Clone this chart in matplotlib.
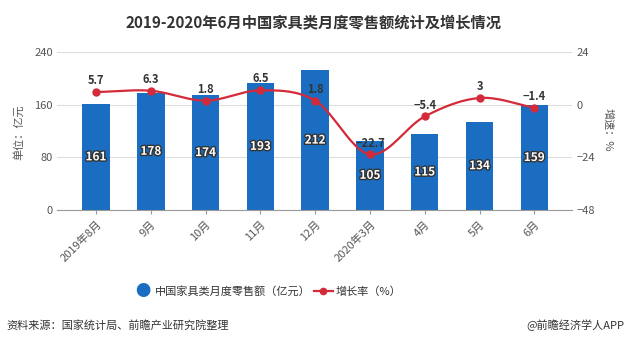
import matplotlib.pyplot as plt
import matplotlib.patheffects as pe
import numpy as np

plt.rcParams['font.family'] = ['Noto Sans CJK SC', 'DejaVu Sans']

months = ['2019年8月', '9月', '10月', '11月', '12月', '2020年3月', '4月', '5月', '6月']
sales = [161, 178, 174, 193, 212, 105, 115, 134, 159]
growth = [5.7, 6.3, 1.8, 6.5, 1.8, -22.7, -5.4, 3, -1.4]

bar_color = '#1a6dc0'
line_color = '#d42a3a'
grey = '#555555'


def smooth(x, y, n=20):
    # catmull-rom curve through the points, for the look of the line only
    x = np.asarray(x, float)
    y = np.asarray(y, float)
    px = np.concatenate([[2 * x[0] - x[1]], x, [2 * x[-1] - x[-2]]])
    py = np.concatenate([[2 * y[0] - y[1]], y, [2 * y[-1] - y[-2]]])
    t = np.linspace(0, 1, n)[:, None]
    xs, ys = [], []
    for i in range(1, len(px) - 2):
        for arr, out in ((px, xs), (py, ys)):
            p0, p1, p2, p3 = arr[i - 1], arr[i], arr[i + 1], arr[i + 2]
            c = 0.5 * (2 * p1 + (-p0 + p2) * t + (2 * p0 - 5 * p1 + 4 * p2 - p3) * t ** 2
                       + (-p0 + 3 * p1 - 3 * p2 + p3) * t ** 3)
            out.extend(c.ravel())
    return np.array(xs), np.array(ys)


fig = plt.figure(figsize=(6.28, 3.44), dpi=100)
ax = fig.add_axes([0.091, 0.39, 0.82, 0.459])
x = np.arange(len(months))

ax.bar(x, sales, width=0.5, color=bar_color, zorder=2)
ax.set_ylim(0, 240)
ax.set_yticks([0, 80, 160, 240])
ax.set_xlim(-0.71, len(months) - 0.31)
ax.grid(axis='y', color='#dddddd', linewidth=0.8, zorder=0)
for s in ['top', 'right', 'left']:
    ax.spines[s].set_visible(False)
ax.spines['bottom'].set_color('#999999')
ax.tick_params(axis='y', length=0, labelsize=8, colors=grey, pad=3)
ax.tick_params(axis='x', labelsize=8, colors=grey, length=3, color='#999999')
ax.set_xticks(x)
ax.set_xticklabels(months, rotation=45, ha='right', rotation_mode='anchor')

# value labels sit in the middle of each bar
for xi, v in zip(x, sales):
    ax.text(xi, v / 2, str(v), ha='center', va='center', fontsize=8.5, fontweight='bold',
            color='white', zorder=4,
            path_effects=[pe.withStroke(linewidth=2, foreground='#333333')])

ax2 = ax.twinx()
ax2.set_ylim(-48, 24)
ax2.set_yticks([-48, -24, 0, 24])
for s in ax2.spines.values():
    s.set_visible(False)
ax2.tick_params(axis='y', length=0, labelsize=8, colors=grey, pad=3)
sx, sy = smooth(x, growth)
ax2.plot(sx, sy, color=line_color, linewidth=1.6, zorder=3)
ax2.plot(x, growth, 'o', color=line_color, markersize=5, zorder=3)
for xi, v in zip(x, growth):
    ax2.text(xi, v + 2.2, f'{v:g}'.replace('-', '−'), ha='center', va='bottom',
             fontsize=8, fontweight='bold', color='#333333')

fig.text(0.03, 0.615, '单位：亿元', rotation=90, ha='center', va='center', fontsize=8, color=grey)
fig.text(0.968, 0.622, '增速：%', rotation=-90, ha='center', va='center', fontsize=8, color=grey)

fig.text(0.5, 0.935, '2019-2020年6月中国家具类月度零售额统计及增长情况', ha='center', va='center',
         fontsize=11, fontweight='bold', color='#333333')

# legend
fig.text(0.228, 0.153, '●', ha='center', va='center', fontsize=11, color=bar_color)
fig.text(0.247, 0.153, '中国家具类月度零售额（亿元）', ha='left', va='center', fontsize=8, color='#333333')
fig.lines.append(plt.Line2D([0.5, 0.53], [0.153, 0.153], transform=fig.transFigure,
                            color=line_color, linewidth=1.6))
fig.lines.append(plt.Line2D([0.515], [0.153], transform=fig.transFigure, marker='o',
                            color=line_color, markersize=4.5))
fig.text(0.535, 0.153, '增长率（%）', ha='left', va='center', fontsize=8, color='#333333')

fig.text(0.01, 0.055, '资料来源：国家统计局、前瞻产业研究院整理', ha='left', va='center', fontsize=8, color='#333333')
fig.text(0.995, 0.055, '@前瞻经济学人APP', ha='right', va='center', fontsize=8, color='#333333')

fig.savefig('out.png', dpi=100)
